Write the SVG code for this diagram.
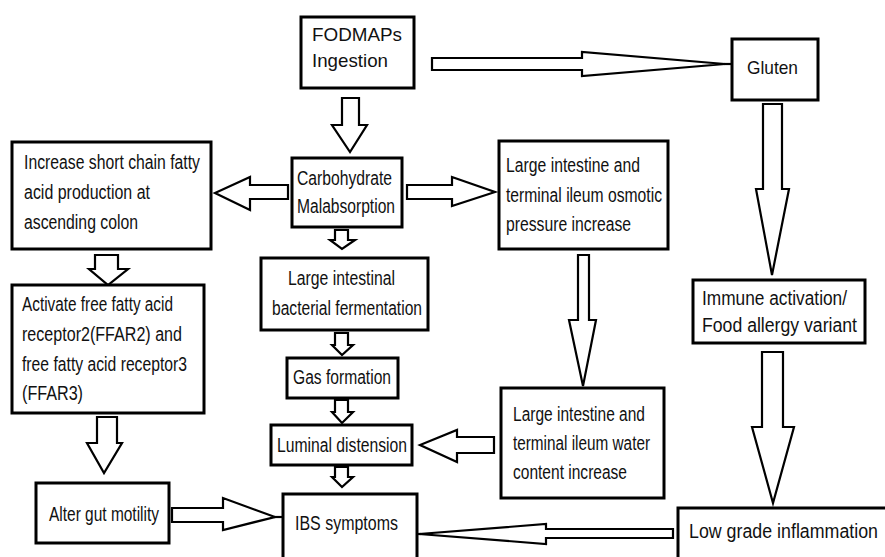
<svg xmlns="http://www.w3.org/2000/svg" width="885" height="557" viewBox="0 0 885 557">
<style>
.box{fill:#fff;stroke:#000;stroke-width:3}
.arr{fill:#fff;stroke:#000;stroke-width:2.2;stroke-linejoin:miter}
.ln{stroke:#000;stroke-width:2.2;fill:none}
text{font-family:"Liberation Sans Narrow","Liberation Sans",Arial,sans-serif;font-size:20px;fill:#111}
.w{font-family:"Liberation Sans",Arial,sans-serif;font-size:18.5px}
</style>
<rect width="885" height="557" fill="#fff"/>
<g id="connectors">
<polygon class="arr" points="342,98 359,98 359,125 367,125 350,152 332,125 342,125"/>
<polygon class="arr" points="432,58 582,58 582,52 725,64 582,76 582,70 432,70"/>
<line class="ln" x1="724" y1="64" x2="732" y2="64"/>
<polygon class="arr" points="288,185 250,185 250,177 215,193 250,210 250,199 288,199"/>
<polygon class="arr" points="407,185 452,185 452,177 495,192 452,206 452,199 407,199"/>
<polygon class="arr" points="335,230 348,230 348,240 355,240 342,249 330,240 335,240"/>
<polygon class="arr" points="95,255 118,255 118,269 128,269 108,285 89,269 95,269"/>
<polygon class="arr" points="578,255 589,255 589,320 596,320 583,386 569,320 578,320"/>
<polygon class="arr" points="763,104 782,104 782,189 789,189 772,275 756,189 763,189"/>
<polygon class="arr" points="762,352 783,352 783,427 794,427 773,503 752,427 762,427"/>
<polygon class="arr" points="335,333 348,333 348,345 353,345 342,355 332,345 335,345"/>
<polygon class="arr" points="335,400 348,400 348,412 353,412 342,423 332,412 335,412"/>
<polygon class="arr" points="335,467 348,467 348,477 353,477 342,487 332,477 335,477"/>
<polygon class="arr" points="97,417 117,417 117,443 122,443 104,473 87,443 97,443"/>
<polygon class="arr" points="172,508 223,508 223,498 275,517 223,530 223,522 172,522"/>
<line class="ln" x1="274" y1="517" x2="283" y2="517"/>
<polygon class="arr" points="494,437 457,437 457,430 420,445 457,462 457,453 494,453"/>
<polygon class="arr" points="673,529 546,529 546,524 419,534 546,544 546,538 673,538"/>
<line class="ln" x1="415" y1="534" x2="421" y2="534"/>
</g>
<g id="fodmaps">
<rect class="box" x="301" y="17" width="113" height="71"/>
<text class="w" x="312" y="41" textLength="90" lengthAdjust="spacingAndGlyphs">FODMAPs</text>
<text class="w" x="312" y="67" textLength="76" lengthAdjust="spacingAndGlyphs">Ingestion</text>
</g>
<g id="gluten">
<rect class="box" x="732" y="39" width="86" height="61"/>
<text class="w" x="747" y="74" textLength="51" lengthAdjust="spacingAndGlyphs">Gluten</text>
</g>
<g id="scfa">
<rect class="box" x="12" y="142" width="199" height="107"/>
<text x="24" y="169" textLength="176" lengthAdjust="spacingAndGlyphs">Increase short chain fatty</text>
<text x="24" y="199" textLength="126" lengthAdjust="spacingAndGlyphs">acid production at</text>
<text x="24" y="229" textLength="114" lengthAdjust="spacingAndGlyphs">ascending colon</text>
</g>
<g id="carb">
<rect class="box" x="292" y="158" width="110" height="69"/>
<text x="297" y="185" textLength="95" lengthAdjust="spacingAndGlyphs">Carbohydrate</text>
<text x="297" y="213" textLength="98" lengthAdjust="spacingAndGlyphs">Malabsorption</text>
</g>
<g id="osmotic">
<rect class="box" x="499" y="141" width="169" height="108"/>
<text x="506" y="172" textLength="134" lengthAdjust="spacingAndGlyphs">Large intestine and</text>
<text x="506" y="202" textLength="156" lengthAdjust="spacingAndGlyphs">terminal ileum osmotic</text>
<text x="506" y="231" textLength="125" lengthAdjust="spacingAndGlyphs">pressure increase</text>
</g>
<g id="fermentation">
<rect class="box" x="261" y="258" width="167" height="72"/>
<text x="288" y="285" textLength="107" lengthAdjust="spacingAndGlyphs">Large intestinal</text>
<text x="272" y="315" textLength="150" lengthAdjust="spacingAndGlyphs">bacterial fermentation</text>
</g>
<g id="ffar">
<rect class="box" x="12" y="285" width="192" height="128"/>
<text x="22" y="311" textLength="151" lengthAdjust="spacingAndGlyphs">Activate free fatty acid</text>
<text x="22" y="341" textLength="160" lengthAdjust="spacingAndGlyphs">receptor2(FFAR2) and</text>
<text x="22" y="371" textLength="165" lengthAdjust="spacingAndGlyphs">free fatty acid receptor3</text>
<text x="22" y="400" textLength="61" lengthAdjust="spacingAndGlyphs">(FFAR3)</text>
</g>
<g id="immune">
<rect class="box" x="693" y="280" width="172" height="63"/>
<text x="702" y="305" textLength="145" lengthAdjust="spacingAndGlyphs">Immune activation/</text>
<text x="702" y="332" textLength="155" lengthAdjust="spacingAndGlyphs">Food allergy variant</text>
</g>
<g id="gas">
<rect class="box" x="287" y="358" width="111" height="40"/>
<text x="293" y="384" textLength="98" lengthAdjust="spacingAndGlyphs">Gas formation</text>
</g>
<g id="luminal">
<rect class="box" x="271" y="425" width="141" height="40"/>
<text x="277" y="452" textLength="130" lengthAdjust="spacingAndGlyphs">Luminal distension</text>
</g>
<g id="water">
<rect class="box" x="501" y="388" width="163" height="110"/>
<text x="513" y="421" textLength="132" lengthAdjust="spacingAndGlyphs">Large intestine and</text>
<text x="513" y="450" textLength="137" lengthAdjust="spacingAndGlyphs">terminal ileum water</text>
<text x="513" y="479" textLength="114" lengthAdjust="spacingAndGlyphs">content increase</text>
</g>
<g id="motility">
<rect class="box" x="36" y="483" width="133" height="60"/>
<text x="49" y="521" textLength="110" lengthAdjust="spacingAndGlyphs">Alter gut motility</text>
</g>
<g id="ibs">
<rect class="box" x="283" y="494" width="134" height="75"/>
<text x="295" y="530" textLength="103" lengthAdjust="spacingAndGlyphs">IBS symptoms</text>
</g>
<g id="inflammation">
<rect class="box" x="678" y="508" width="215" height="60"/>
<text x="689" y="538" textLength="189" lengthAdjust="spacingAndGlyphs">Low grade inflammation</text>
</g>
</svg>
